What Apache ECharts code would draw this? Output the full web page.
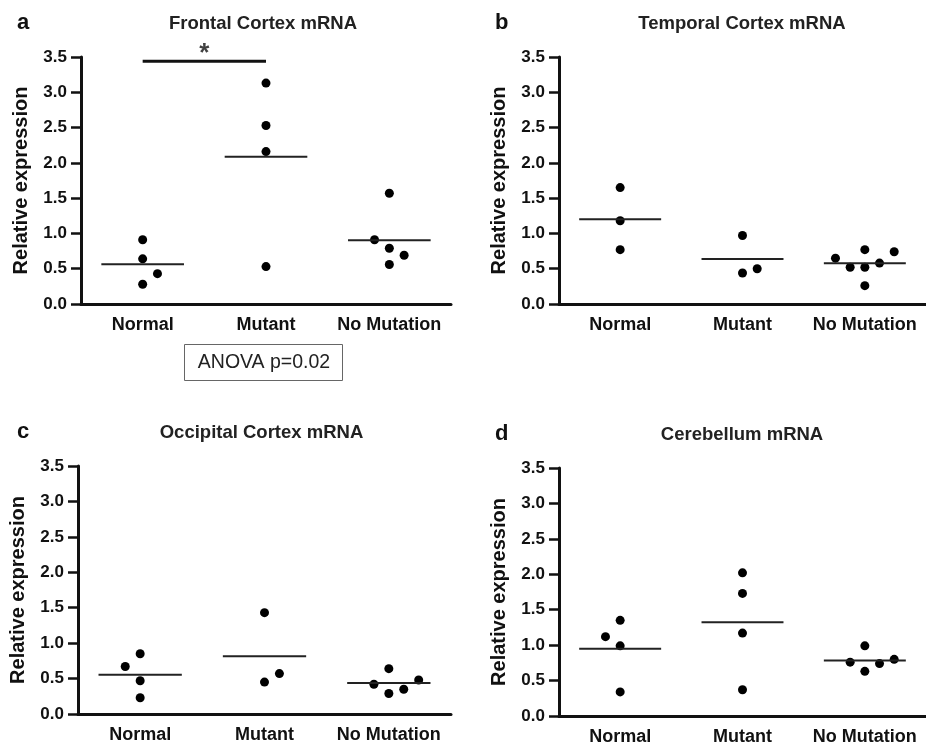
<!DOCTYPE html>
<html>
<head>
<meta charset="utf-8">
<title>mRNA relative expression</title>
<script src="https://cdn.jsdelivr.net/npm/echarts@6/dist/echarts.min.js"></script>
<style>
  html, body { margin: 0; padding: 0; background: #fff; }
  #chart { width: 926px; height: 747px; }
</style>
</head>
<body>
<div id="chart"></div>
<script>
// groups on the x axis
var groups = ["Normal", "Mutant", "No Mutation"];
var yTicks = [0, 0.5, 1, 1.5, 2, 2.5, 3, 3.5];

// values, one array per group
var frontalNormal = [0.91, 0.64, 0.43, 0.28];
var frontalMutant = [3.13, 2.53, 2.16, 0.53];
var frontalNoMut = [1.57, 0.91, 0.79, 0.69, 0.56];
var temporalNormal = [1.65, 1.18, 0.77];
var temporalMutant = [0.97, 0.44, 0.50];
var temporalNoMut = [0.65, 0.52, 0.77, 0.52, 0.58, 0.74, 0.26];
var occipitalNormal = [0.85, 0.67, 0.47, 0.23];
var occipitalMutant = [1.43, 0.45, 0.57];
var occipitalNoMut = [0.64, 0.42, 0.48, 0.29, 0.35];
var cerebNormal = [1.35, 1.12, 0.99, 0.34];
var cerebMutant = [2.02, 1.73, 1.17, 0.37];
var cerebNoMut = [0.99, 0.76, 0.74, 0.80, 0.63];

// horizontal spread of each dot (in group widths), as plotted in the figure
var frontalNormalJit = [0, 0, 0.12, 0];
var frontalMutantJit = [0, 0, 0, 0];
var frontalNoMutJit = [0, -0.12, 0, 0.12, 0];
var temporalNormalJit = [0, 0, 0];
var temporalMutantJit = [0, 0, 0.12];
var temporalNoMutJit = [-0.24, -0.12, 0, 0, 0.12, 0.24, 0];
var occipitalNormalJit = [0, -0.12, 0, 0];
var occipitalMutantJit = [0, 0, 0.12];
var occipitalNoMutJit = [0, -0.12, 0.24, 0, 0.12];
var cerebNormalJit = [0, -0.12, 0, 0];
var cerebMutantJit = [0, 0, 0, 0];
var cerebNoMutJit = [0, -0.12, 0.12, 0.24, 0];

var panels = [
  { letter: "a", title: "Frontal Cortex mRNA", data: [frontalNormal, frontalMutant, frontalNoMut],
    jit: [frontalNormalJit, frontalMutantJit, frontalNoMutJit],
    grid: { left: 81, top: 57, width: 370, height: 247 } },
  { letter: "b", title: "Temporal Cortex mRNA", data: [temporalNormal, temporalMutant, temporalNoMut],
    jit: [temporalNormalJit, temporalMutantJit, temporalNoMutJit],
    grid: { left: 559, top: 57, width: 372, height: 247 } },
  { letter: "c", title: "Occipital Cortex mRNA", data: [occipitalNormal, occipitalMutant, occipitalNoMut],
    jit: [occipitalNormalJit, occipitalMutantJit, occipitalNoMutJit],
    grid: { left: 78, top: 466, width: 373, height: 248 } },
  { letter: "d", title: "Cerebellum mRNA", data: [cerebNormal, cerebMutant, cerebNoMut],
    jit: [cerebNormalJit, cerebMutantJit, cerebNoMutJit],
    grid: { left: 559, top: 468, width: 372, height: 248 } }
];

// significance bar in panel a (Normal vs Mutant)
var sigBar = [[0, 3.44], [1, 3.44]];
var sigLabel = "*";

function mean(arr) {
  var s = 0;
  for (var i = 0; i < arr.length; i++) s += arr[i];
  return s / arr.length;
}

var FONT = "Liberation Sans, Arial, sans-serif";
var myChart = echarts.init(document.getElementById("chart"));

var grids = [], xAxes = [], yAxes = [], series = [], titles = [];
var letterShift = [69, 69, 66, 69];

panels.forEach(function (p, k) {
  grids.push(p.grid);
  // shown axis: categories, ticks at group centres
  xAxes.push({
    type: "category", gridIndex: k, data: groups, boundaryGap: true,
    axisLine: { onZero: false, lineStyle: { color: "#111", width: 3 } },
    axisTick: { alignWithLabel: true, length: 9, lineStyle: { color: "#111", width: 2.5 } },
    axisLabel: { interval: 0, color: "#111", fontFamily: FONT, fontWeight: "bold", fontSize: 18, margin: 12 },
    splitLine: { show: false }
  });
  // hidden axis used to place the dots and mean lines
  xAxes.push({
    type: "value", gridIndex: k, min: -0.5, max: 2.5, show: false, splitLine: { show: false }
  });
  yAxes.push({
    type: "value", gridIndex: k, min: 0, max: 3.5, interval: 0.5,
    name: "Relative expression", nameLocation: "middle", nameGap: 50,
    nameTextStyle: { color: "#111", fontFamily: FONT, fontWeight: "bold", fontSize: 20 },
    axisLine: { show: true, onZero: false, lineStyle: { color: "#111", width: 3 } },
    axisTick: { show: true, length: 10, lineStyle: { color: "#111", width: 2.5 } },
    axisLabel: { color: "#111", fontFamily: FONT, fontWeight: "bold", fontSize: 17, margin: 14,
      formatter: function (v) { return v.toFixed(1); } },
    splitLine: { show: false }
  });

  var xIdx = k * 2 + 1;
  p.data.forEach(function (vals, g) {
    var pts = vals.map(function (v, i) { return [g + p.jit[g][i], v]; });
    series.push({
      type: "scatter", xAxisIndex: xIdx, yAxisIndex: k, data: pts,
      symbol: "circle", symbolSize: 9, itemStyle: { color: "#000", opacity: 1 }, silent: true
    });
    var m = mean(vals);
    series.push({
      type: "line", xAxisIndex: xIdx, yAxisIndex: k,
      data: [[g - 0.335, m], [g + 0.335, m]],
      symbol: "none", lineStyle: { color: "#222", width: 2 }, silent: true
    });
  });

  titles.push({
    text: p.title, left: p.grid.left + p.grid.width / 2 - 8, top: p.grid.top - 48,
    textAlign: "center",
    textStyle: { color: "#222", fontFamily: FONT, fontWeight: "bold", fontSize: 18.5 }
  });
  titles.push({
    text: p.letter, left: p.grid.left - letterShift[k], top: p.grid.top - 50,
    textStyle: { color: "#111", fontFamily: FONT, fontWeight: "bold", fontSize: 22 }
  });
});

// significance bar + asterisk on panel a
series.push({
  type: "line", xAxisIndex: 1, yAxisIndex: 0, data: sigBar,
  symbol: "none", lineStyle: { color: "#111", width: 3 }, silent: true
});
series.push({
  type: "scatter", xAxisIndex: 1, yAxisIndex: 0,
  data: [[(sigBar[0][0] + sigBar[1][0]) / 2, sigBar[0][1]]],
  symbolSize: 0, silent: true,
  label: { show: true, position: "top", distance: -6, formatter: sigLabel,
    color: "#111", fontFamily: FONT, fontWeight: "bold", fontSize: 26 }
});

myChart.setOption({
  animation: false,
  backgroundColor: "#fff",
  title: titles,
  grid: grids,
  xAxis: xAxes,
  yAxis: yAxes,
  series: series,
  graphic: [{
    type: "group", left: 184, top: 344,
    children: [
      { type: "rect", shape: { x: 0.5, y: 0.5, width: 158, height: 36 },
        style: { fill: "#fff", stroke: "#666", lineWidth: 1 } },
      { type: "text", x: 80, y: 18.5,
        style: { text: "ANOVA p=0.02", fill: "#222", font: "19.5px " + FONT,
          textAlign: "center", textVerticalAlign: "middle" } }
    ]
  }]
});
</script>
</body>
</html>
